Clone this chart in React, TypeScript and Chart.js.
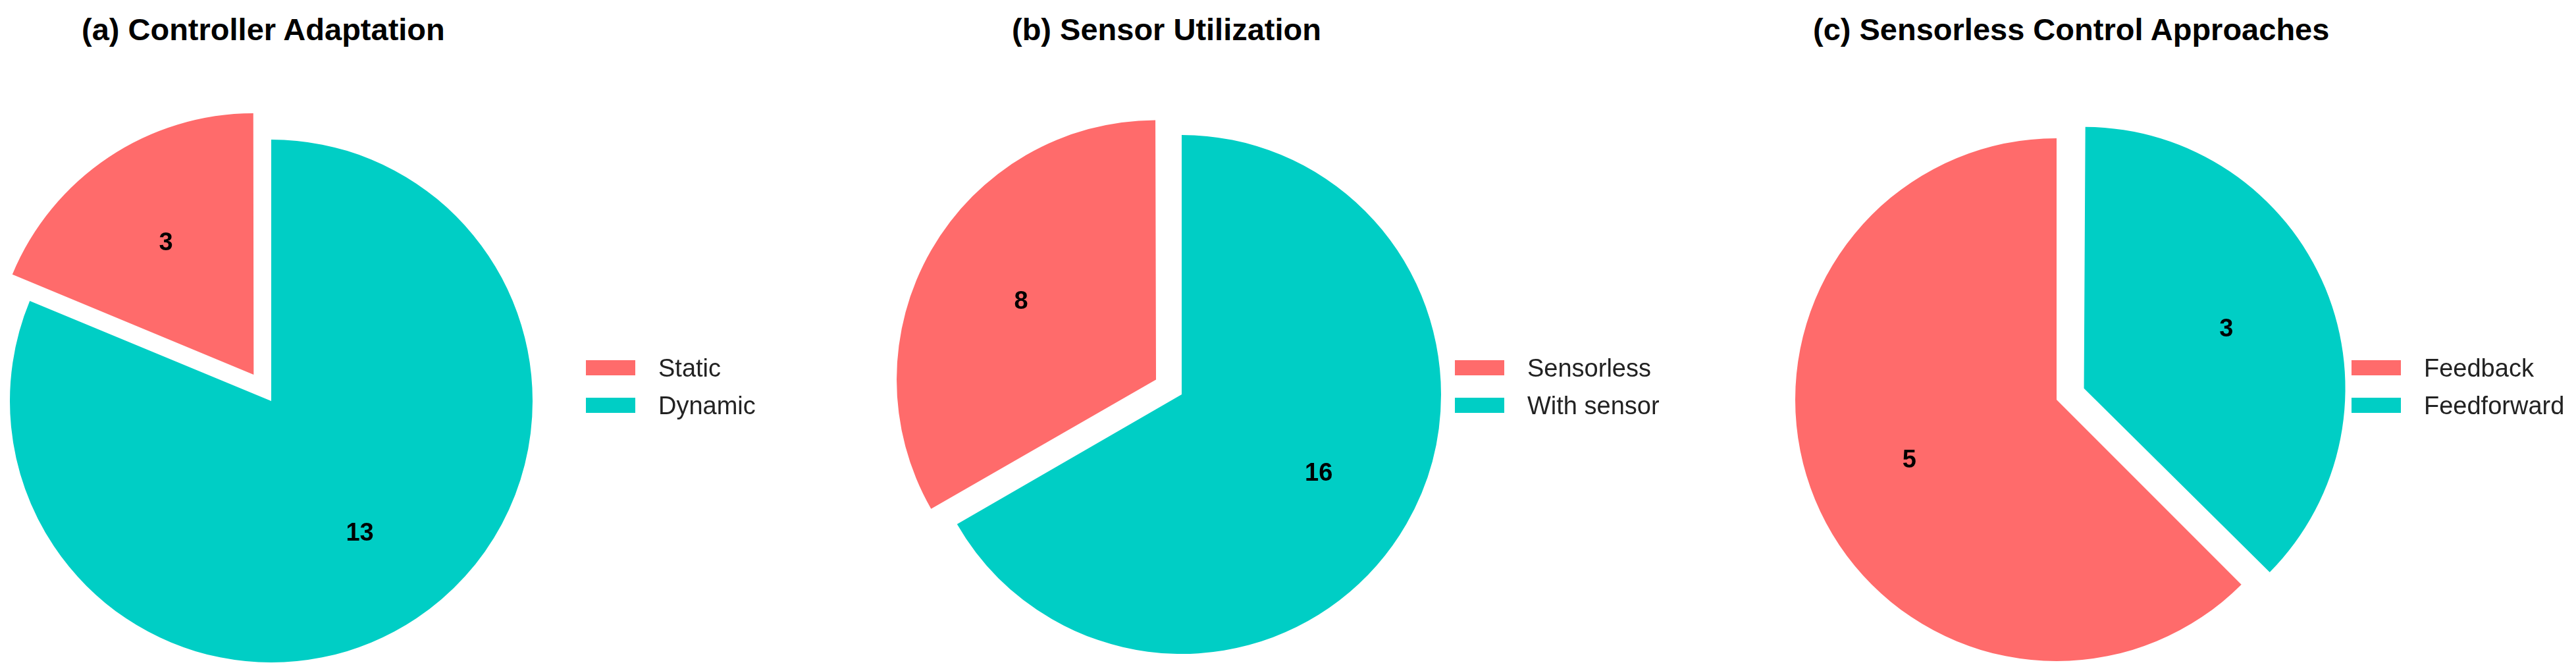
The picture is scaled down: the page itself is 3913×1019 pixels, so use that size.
import React, { useEffect, useRef } from "react";
import { Chart, registerables } from "chart.js";

Chart.register(...registerables);

// ---- Data ----
const titles = [
  "(a) Controller Adaptation",
  "(b) Sensor Utilization",
  "(c) Sensorless Control Approaches",
];
const labelsA = ["Static", "Dynamic"];
const valuesA = [3, 13];
const labelsB = ["Sensorless", "With sensor"];
const valuesB = [8, 16];
const labelsC = ["Feedback", "Feedforward"];
const valuesC = [5, 3];
const explodedA = [true, false];
const explodedB = [true, false];
const explodedC = [false, true];

const colors = ["#FF6B6B", "#00CEC5"];
const FONT = "'Liberation Sans', Arial, Helvetica, sans-serif";

// ---- Layout ----
const CANVAS = 1040;
const panels = [
  { labels: labelsA, values: valuesA, exploded: explodedA, cx: 412, cy: 609, r: 397, off: 48, titleX: 124, keyX: 890 },
  { labels: labelsB, values: valuesB, exploded: explodedB, cx: 1795, cy: 599, r: 394, off: 45, titleX: 1537, keyX: 2210 },
  { labels: labelsC, values: valuesC, exploded: explodedC, cx: 3124, cy: 607, r: 397, off: 45, titleX: 2754, keyX: 3572 },
];

// Keep exploded slices at the same radius as the others
const radiusFix = {
  id: "radiusFix",
  afterDatasetsUpdate(chart: any) {
    chart.getSortedVisibleDatasetMetas().forEach((meta: any) => {
      meta.data.forEach((el: any) => {
        const off = ((el.options && el.options.offset) || 0) / 4;
        if (!off) return;
        const circ = el.endAngle - el.startAngle;
        const fix = 1 - Math.sin(Math.min(Math.PI, circ));
        el.outerRadius = el.outerRadius - off * fix;
      });
    });
  },
};

const sliceLabels = {
  id: "sliceLabels",
  afterDatasetsDraw(chart: any) {
    const ctx = chart.ctx;
    ctx.save();
    ctx.font = `bold 38px ${FONT}`;
    ctx.fillStyle = "#000";
    ctx.textAlign = "center";
    ctx.textBaseline = "middle";
    chart.getSortedVisibleDatasetMetas().forEach((meta: any) => {
      const ds = chart.data.datasets[meta.index];
      meta.data.forEach((el: any, i: number) => {
        const { x, y, startAngle, endAngle, outerRadius } = el.getProps(
          ["x", "y", "startAngle", "endAngle", "outerRadius"],
          true
        );
        const mid = (startAngle + endAngle) / 2;
        const off = ((el.options && el.options.offset) || 0) / 4;
        const r = off + outerRadius * 0.61;
        ctx.fillText(String(ds.data[i]), x + Math.cos(mid) * r, y + Math.sin(mid) * r);
      });
    });
    ctx.restore();
  },
};

function PiePanel({ p }: { p: any }) {
  const ref = useRef<HTMLCanvasElement>(null);
  useEffect(() => {
    if (!ref.current) return;
    const total = p.values.reduce((a: number, b: number) => a + b, 0);
    const rotation = -(p.values[0] / total) * 360;
    const chart = new Chart(ref.current, {
      type: "pie",
      data: {
        labels: p.labels,
        datasets: [
          {
            data: p.values,
            backgroundColor: colors,
            borderWidth: 0,
            offset: p.exploded.map((e: boolean) => (e ? p.off * 4 : 0)),
            rotation,
            radius: p.r,
          } as any,
        ],
      },
      options: {
        responsive: false,
        animation: false,
        events: [],
        layout: { padding: 0 },
        rotation,
        radius: p.r,
        plugins: {
          legend: { display: false },
          tooltip: { enabled: false },
          title: { display: false },
        },
      } as any,
      plugins: [radiusFix, sliceLabels],
    });
    return () => chart.destroy();
  }, [p]);
  return (
    <canvas
      ref={ref}
      width={CANVAS}
      height={CANVAS}
      style={{
        position: "absolute",
        left: p.cx - CANVAS / 2,
        top: p.cy - CANVAS / 2,
        width: CANVAS,
        height: CANVAS,
      }}
    />
  );
}

export default function App() {
  return (
    <div
      style={{
        position: "absolute",
        left: 0,
        top: 0,
        width: 3913,
        height: 1019,
        overflow: "hidden",
        background: "#fff",
        fontFamily: FONT,
      }}
    >
      {panels.map((p, k) => (
        <PiePanel key={"pie" + k} p={p} />
      ))}
      {panels.map((p, k) => (
        <div
          key={"title" + k}
          style={{
            position: "absolute",
            left: p.titleX,
            top: 21,
            fontSize: 47,
            lineHeight: "47px",
            fontWeight: "bold",
            color: "#000",
            whiteSpace: "nowrap",
          }}
        >
          {titles[k]}
        </div>
      ))}
      {panels.map((p, k) => (
        <div
          key={"legend" + k}
          style={{ position: "absolute", left: p.keyX, top: 530 }}
        >
          {p.labels.map((lab: string, i: number) => (
            <div
              key={lab}
              style={{ display: "flex", alignItems: "center", height: 57 }}
            >
              <div style={{ width: 75, height: 23, background: colors[i] }} />
              <div
                style={{
                  marginLeft: 35,
                  fontSize: 38,
                  lineHeight: "38px",
                  color: "#222",
                  whiteSpace: "nowrap",
                }}
              >
                {lab}
              </div>
            </div>
          ))}
        </div>
      ))}
    </div>
  );
}
